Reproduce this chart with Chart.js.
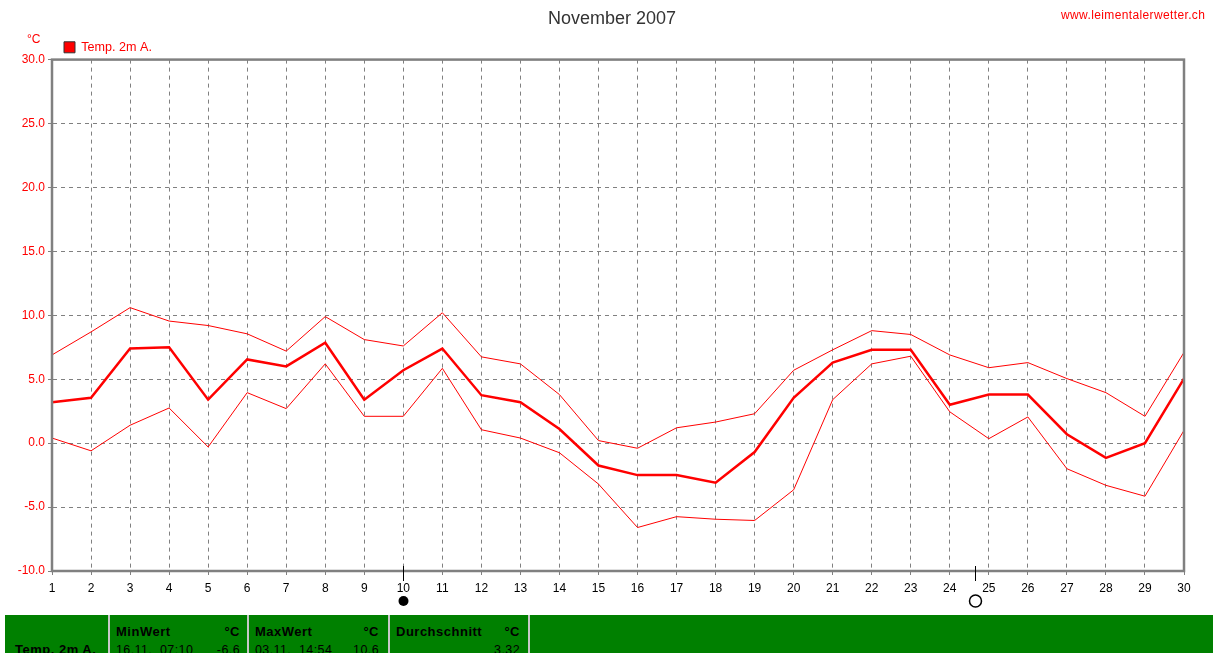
<!DOCTYPE html>
<html>
<head>
<meta charset="utf-8">
<title>November 2007</title>
<script src="https://cdn.jsdelivr.net/npm/chart.js@4"></script>
<style>
  html, body { margin: 0; padding: 0; background: #fff; overflow: hidden; }
  #wrap { position: relative; width: 1213px; height: 653px; overflow: hidden; }
  #chart { position: absolute; left: 0; top: 0; }
  #stats { position: absolute; left: 5px; top: 615px; width: 1208px; height: 60px; background: #008000; color: #000;
           font: 12.5px "Liberation Sans", Arial, sans-serif; }
  #stats div { position: absolute; white-space: pre; letter-spacing: 0.4px; }
  #stats .sep { top: 0; width: 2px; height: 60px; background: #c8c8c8; }
  #stats .b { font-weight: bold; font-size: 13px; letter-spacing: 0.5px; }
</style>
</head>
<body>
<div id="wrap">
  <canvas id="chart" width="1213" height="615"></canvas>
  <div id="stats"></div>
</div>
<script>
// setup data block
const days = [1, 2, 3, 4, 5, 6, 7, 8, 9, 10, 11, 12, 13, 14, 15, 16, 17, 18, 19, 20, 21, 22, 23, 24, 25, 26, 27, 28, 29, 30];
const tempMean = [3.2, 3.55, 7.4, 7.5, 3.4, 6.55, 6.0, 7.85, 3.4, 5.7, 7.4, 3.75, 3.2, 1.1, -1.75, -2.5, -2.5, -3.1, -0.7, 3.55, 6.3, 7.3, 7.3, 3.0, 3.8, 3.8, 0.7, -1.15, 0.0, 5.05];
const tempMax = [6.9, 8.7, 10.6, 9.55, 9.2, 8.55, 7.2, 9.9, 8.1, 7.6, 10.2, 6.75, 6.2, 3.8, 0.2, -0.4, 1.2, 1.65, 2.3, 5.7, 7.3, 8.8, 8.5, 6.9, 5.9, 6.3, 5.05, 3.95, 2.1, 7.1];
const tempMin = [0.4, -0.6, 1.4, 2.75, -0.3, 3.95, 2.7, 6.2, 2.1, 2.1, 5.85, 1.05, 0.4, -0.75, -3.2, -6.6, -5.75, -5.95, -6.05, -3.65, 3.4, 6.2, 6.8, 2.45, 0.35, 2.05, -2.0, -3.3, -4.15, 1.0];
const moonPhases = [{ day: 10, full: true }, { day: 24.65, full: false }];
const statHeads = ['MinWert', 'MaxWert', 'Durchschnitt'];
const statWhen = ['16.11.  07:10', '03.11.  14:54', ''];
const statValues = ['-6.6', '10.6', '3.32'];

const toPoints = list => list.map((v, i) => ({ x: days[i], y: v }));
const GRAY = '#808080';
const FONT = '"Liberation Sans", Arial, sans-serif';

// frame, moon markers and the loose labels
const extras = {
  id: 'extras',
  afterLayout(chart) {
    chart.titleBlock.left += 20;
    chart.titleBlock.right += 20;
    chart.titleBlock.top += 8;
    chart.titleBlock.bottom += 8;
    chart.legend.top += 4;
    chart.legend.bottom += 4;
  },
  afterDraw(chart) {
    const { ctx, chartArea: a, scales: { x } } = chart;
    ctx.save();
    ctx.strokeStyle = GRAY;
    ctx.lineWidth = 2.5;
    ctx.strokeRect(a.left, a.top, a.right - a.left, a.bottom - a.top);

    moonPhases.forEach(m => {
      const mx = Math.round(x.getPixelForValue(m.day));
      ctx.strokeStyle = '#000';
      ctx.lineWidth = 1;
      ctx.beginPath();
      ctx.moveTo(mx + 0.5, 566);
      ctx.lineTo(mx + 0.5, 581);
      ctx.stroke();
      ctx.beginPath();
      ctx.arc(mx + 0.5, 601, m.full ? 5 : 6, 0, Math.PI * 2);
      if (m.full) {
        ctx.fillStyle = '#000';
        ctx.fill();
      } else {
        ctx.lineWidth = 1.5;
        ctx.stroke();
      }
    });

    ctx.fillStyle = '#ff0000';
    ctx.font = '12px ' + FONT;
    ctx.textBaseline = 'middle';
    ctx.textAlign = 'left';
    ctx.fillText('°C', 27, 40);
    ctx.letterSpacing = '0.37px';
    ctx.fillText('www.leimentalerwetter.ch', 1061, 16);
    ctx.restore();
  },
};

new Chart(document.getElementById('chart'), {
  type: 'line',
  data: {
    datasets: [
      { label: 'Temp. 2m A.', data: toPoints(tempMean), borderColor: '#ff0000', backgroundColor: '#ff0000', borderWidth: 2.5 },
      { label: 'Max', data: toPoints(tempMax), borderColor: '#ff0000', borderWidth: 1 },
      { label: 'Min', data: toPoints(tempMin), borderColor: '#ff0000', borderWidth: 1 },
    ],
  },
  plugins: [extras],
  options: {
    responsive: false,
    animation: false,
    layout: { padding: { left: 0, right: 29, top: 0, bottom: 0 } },
    elements: { point: { radius: 0 }, line: { tension: 0, borderJoinStyle: 'miter' } },
    plugins: {
      tooltip: { enabled: false },
      title: {
        display: true,
        text: 'November 2007',
        color: '#333',
        font: { family: FONT, size: 18, weight: 'normal' },
        padding: { top: 0, bottom: 3.4 },
      },
      legend: {
        display: true,
        position: 'top',
        align: 'start',
        fullSize: false,
        labels: {
          color: '#ff0000',
          font: { family: FONT, size: 12.6 },
          boxWidth: 11,
          boxHeight: 11,
          padding: 12,
          generateLabels: chart => [{
            text: chart.data.datasets[0].label,
            fontColor: '#ff0000',
            fillStyle: '#ff0000',
            strokeStyle: '#333',
            lineWidth: 1,
            datasetIndex: 0,
          }],
        },
      },
    },
    scales: {
      x: {
        type: 'linear',
        min: 1,
        max: 30,
        afterFit: s => { s.height = 44; },
        afterBuildTicks: s => { s.ticks = days.map(d => ({ value: d })); },
        ticks: { autoSkip: false, maxRotation: 0, color: '#000', font: { family: FONT, size: 12 }, padding: 6, callback: v => String(v) },
        grid: { color: GRAY, tickColor: GRAY, tickLength: 4, tickBorderDash: [] },
        border: { color: GRAY, width: 2, dash: [4, 4] },
      },
      y: {
        min: -10,
        max: 30,
        afterFit: s => { s.width = 52; },
        ticks: { stepSize: 5, color: '#ff0000', font: { family: FONT, size: 12 }, padding: 3, callback: v => v.toFixed(1) },
        grid: { color: GRAY, tickColor: GRAY, tickLength: 4, tickBorderDash: [] },
        border: { color: GRAY, width: 2, dash: [4, 4] },
      },
    },
  },
});

// stats strip below the chart
const stats = document.getElementById('stats');
const put = (cls, left, top, text, right) => {
  const d = document.createElement('div');
  d.className = cls;
  d.style.left = left + 'px';
  d.style.top = top + 'px';
  if (right) { d.style.left = 'auto'; d.style.right = (1208 - right) + 'px'; }
  d.textContent = text;
  stats.appendChild(d);
};
const columnLeft = [103, 242, 383];
put('b', 10, 27, 'Temp. 2m A.');
statHeads.forEach((h, i) => {
  const c = columnLeft[i];
  put('sep', c, 0, '');
  put('b', c + 8, 9, h);
  put('b', c + 8, 9, '°C', c + 132);
  put('', c + 8, 28, statWhen[i]);
  put('', c + 8, 28, statValues[i], c + 132);
});
put('sep', 523, 0, '');
</script>
</body>
</html>
